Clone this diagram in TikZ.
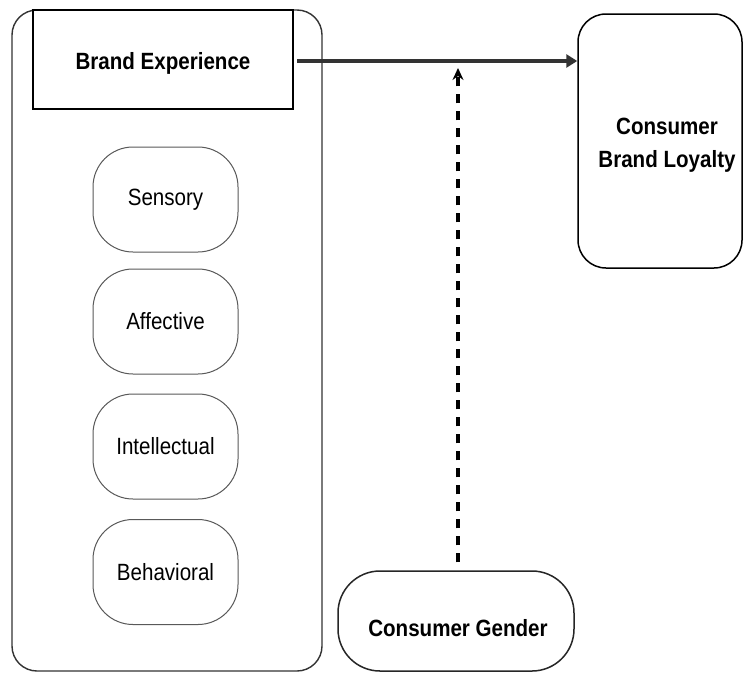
\documentclass[tikz,border=0pt]{standalone}
\usepackage{fontspec}
\setmainfont{Liberation Sans}[FakeStretch=0.875]
\usetikzlibrary{arrows.meta}
\begin{document}
\begin{tikzpicture}[x=1pt,y=-1pt,
  bold/.style={font=\fontsize{23.5}{32.5}\selectfont\bfseries, align=center},
  reg/.style={font=\fontsize{23.5}{31}\selectfont},
  container/.style={draw=black!80, line width=1.4pt, rounded corners=25pt},
  dimbox/.style={draw=black!65, line width=1pt, rounded corners=40pt, minimum width=145pt, minimum height=105pt, reg},
  mainarrow/.style={draw=black!80, line width=4pt, -{Triangle[length=11pt,width=13pt]}},
  modarrow/.style={draw=black, line width=3.2pt, dash pattern=on 9pt off 8pt, -{Stealth[length=12pt,width=11pt,inset=4pt]}}
]
\useasboundingbox (0,0) rectangle (743,672);
\fill[white] (0,0) rectangle (743,672);
% outer container
\node[container, minimum width=310pt, minimum height=661pt, inner sep=0pt] (outer) at (167,340.5) {};
% brand experience header
\node[draw=black, line width=1.3pt, minimum width=260pt, minimum height=99pt, inner sep=0pt,
  label={[bold, yshift=-4pt]center:Brand Experience}] (be) at (163,59.5) {};
% dimensions
\node[dimbox] (sens) at (165.5,199.5) {Sensory};
\node[dimbox] (aff) at (165.5,321.5) {Affective};
\node[dimbox] (int) at (165.5,446.5) {Intellectual};
\node[dimbox] (beh) at (165.5,572) {Behavioral};
% consumer brand loyalty
\node[draw=black, line width=1.5pt, rounded corners=28pt, minimum width=164pt, minimum height=254pt, inner sep=0pt,
  label={[bold, yshift=-4pt, xshift=7pt]center:Consumer\\Brand Loyalty}] (cbl) at (660,141) {};
% consumer gender
\node[draw=black!85, line width=1.5pt, rounded corners=42pt, minimum width=236pt, minimum height=100pt, inner sep=0pt,
  label={[bold, yshift=-7pt, xshift=2pt]center:Consumer Gender}] (cg) at (456,621) {};
% arrows
\coordinate (mod) at (458,61);
\coordinate (start) at (297,61);
\draw[mainarrow] (start) -- (cbl.west |- start);
\draw[modarrow] (mod |- cg.north) ++(0,-8) -- ([yshift=-7pt]mod);
\end{tikzpicture}
\end{document}
